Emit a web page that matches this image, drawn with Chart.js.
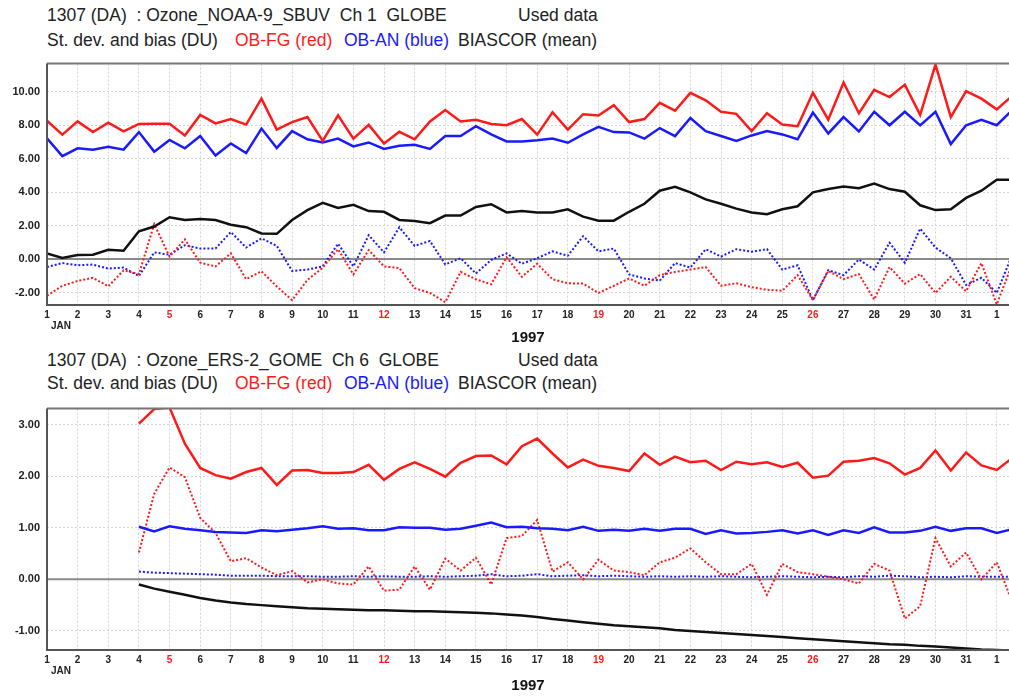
<!DOCTYPE html>
<html>
<head>
<meta charset="utf-8">
<script src="https://cdn.jsdelivr.net/npm/chart.js@4/dist/chart.umd.min.js"></script>
<style>
  body { margin: 0; background: #fff; font-family: 'Liberation Sans', Arial, sans-serif; }
  #page { position: relative; width: 1009px; height: 698px; overflow: hidden; }
  .t { position: absolute; font-size: 17.5px; line-height: 18px; color: #222; white-space: pre; }
  .r { color: #ff1a1a; }
  .b { color: #1a1aff; }
  canvas { position: absolute; left: 0; }
</style>
</head>
<body>
<div id="page">
  <div class="t" style="left:47px;top:6px">1307 (DA)  : Ozone_NOAA-9_SBUV  Ch 1  GLOBE</div>
  <div class="t" style="left:518px;top:6px">Used data</div>
  <div class="t" style="left:47px;top:31px">St. dev. and bias (DU)</div>
  <div class="t r" style="left:235px;top:31px">OB-FG (red)</div>
  <div class="t b" style="left:344px;top:31px">OB-AN (blue)</div>
  <div class="t" style="left:458px;top:31px">BIASCOR (mean)</div>
  <canvas id="c1" width="1009" height="300" style="top:50px"></canvas>

  <div class="t" style="left:47px;top:351px">1307 (DA)  : Ozone_ERS-2_GOME  Ch 6  GLOBE</div>
  <div class="t" style="left:518px;top:351px">Used data</div>
  <div class="t" style="left:47px;top:374px">St. dev. and bias (DU)</div>
  <div class="t r" style="left:235px;top:374px">OB-FG (red)</div>
  <div class="t b" style="left:344px;top:374px">OB-AN (blue)</div>
  <div class="t" style="left:458px;top:374px">BIASCOR (mean)</div>
  <canvas id="c2" width="1009" height="300" style="top:395px"></canvas>
</div>
<script>
// time axis: days of Jan 1997, two values per day (32 = 1 Feb)
const days = [1, 1.5, 2, 2.5, 3, 3.5, 4, 4.5, 5, 5.5, 6, 6.5, 7, 7.5, 8, 8.5,
  9, 9.5, 10, 10.5, 11, 11.5, 12, 12.5, 13, 13.5, 14, 14.5, 15, 15.5, 16, 16.5,
  17, 17.5, 18, 18.5, 19, 19.5, 20, 20.5, 21, 21.5, 22, 22.5, 23, 23.5, 24, 24.5,
  25, 25.5, 26, 26.5, 27, 27.5, 28, 28.5, 29, 29.5, 30, 30.5, 31, 31.5, 32, 32.5];
const sundays = [5, 12, 19, 26];

// --- NOAA-9 SBUV, Ch 1 ---
const sbuvSdFg = [8.28, 7.45, 8.24, 7.6, 8.16, 7.64, 8.09, 8.1, 8.1, 7.4, 8.63, 8.12, 8.38, 8.05, 9.6, 7.75,
  8.2, 8.5, 7.07, 8.6, 7.21, 8.03, 6.92, 7.62, 7.17, 8.24, 8.92, 8.24, 8.34, 8.09, 8.01, 8.38,
  7.45, 8.79, 7.75, 8.67, 8.59, 9.21, 8.2, 8.38, 9.35, 8.88, 9.95, 9.5, 8.82, 8.69, 7.66, 8.73,
  8.05, 7.95, 9.95, 8.34, 10.57, 8.73, 10.13, 9.7, 10.44, 8.63, 11.64, 8.5, 10.05, 9.6, 8.96, 9.76];
const sbuvSdAn = [7.23, 6.16, 6.63, 6.55, 6.72, 6.55, 7.6, 6.43, 7.13, 6.63, 7.37, 6.2, 6.92, 6.34, 7.81, 6.65,
  7.66, 7.17, 6.98, 7.21, 6.74, 6.98, 6.59, 6.78, 6.84, 6.59, 7.37, 7.37, 7.95, 7.46, 7.04, 7.04,
  7.11, 7.21, 6.96, 7.46, 7.91, 7.6, 7.58, 7.21, 7.84, 7.36, 8.44, 7.66, 7.37, 7.07, 7.4, 7.66,
  7.46, 7.17, 8.77, 7.52, 8.5, 7.64, 8.82, 8.01, 8.82, 8.0, 8.82, 6.88, 8.01, 8.34, 8.01, 8.9];
const sbuvBiascor = [0.34, 0.07, 0.24, 0.26, 0.55, 0.5, 1.66, 1.95, 2.5, 2.34, 2.4, 2.34, 2.05, 1.91, 1.53, 1.51,
  2.34, 2.93, 3.37, 3.06, 3.25, 2.87, 2.83, 2.34, 2.28, 2.15, 2.6, 2.6, 3.12, 3.28, 2.79, 2.87,
  2.79, 2.79, 2.98, 2.54, 2.3, 2.3, 2.83, 3.31, 4.09, 4.32, 3.99, 3.57, 3.31, 3.02, 2.79, 2.69,
  2.98, 3.16, 3.99, 4.19, 4.34, 4.24, 4.52, 4.19, 4.03, 3.22, 2.93, 2.98, 3.66, 4.09, 4.75, 4.75];
const sbuvMeanFg = [-2.19, -1.6, -1.31, -1.12, -1.64, -0.67, -0.9, 2.09, 0.15, 1.18, -0.22, -0.44, 0.34, -1.2, -0.73, -1.64,
  -2.46, -1.25, -0.51, 0.59, -0.92, 0.54, -0.44, -0.54, -1.74, -2.03, -2.58, -0.77, -1.21, -1.51, 0.11, -1.06,
  -0.28, -1.21, -1.45, -1.47, -2.03, -1.6, -1.16, -1.6, -0.96, -0.77, -0.63, -0.48, -1.6, -1.45, -1.68, -1.84,
  -1.9, -0.96, -2.46, -0.71, -1.2, -0.9, -2.42, -0.48, -1.47, -0.9, -2.03, -1.06, -1.93, -0.24, -2.71, -0.32];
const sbuvMeanAn = [-0.48, -0.24, -0.37, -0.33, -0.57, -0.51, -1.02, 0.4, 0.26, 0.83, 0.63, 0.63, 1.62, 0.69, 1.24, 0.79,
  -0.71, -0.63, -0.44, 0.92, -0.44, 1.43, 0.4, 1.9, 0.79, 1.08, -0.32, 0.05, -0.86, -0.05, 0.34, -0.28,
  0.05, 0.46, 0.2, 1.37, 0.46, 0.63, -0.92, -1.16, -1.29, -0.24, -0.51, 0.59, 0.15, 0.59, 0.44, 0.59,
  -0.63, -0.37, -2.46, -0.67, -0.96, -0.03, -0.63, 0.98, -0.22, 1.82, 0.69, 0.05, -1.55, -1.12, -2.03, 0.23];

// --- ERS-2 GOME, Ch 6 (no data before Jan 4) ---
const gomeSdFg = [null, null, null, null, null, null, 3.02, 3.3, 3.33, 2.63, 2.16, 2.02, 1.95, 2.08, 2.16, 1.83,
  2.11, 2.12, 2.06, 2.06, 2.08, 2.22, 1.93, 2.14, 2.27, 2.14, 1.99, 2.26, 2.39, 2.4, 2.23, 2.58,
  2.73, 2.44, 2.17, 2.32, 2.2, 2.16, 2.1, 2.44, 2.22, 2.38, 2.27, 2.3, 2.12, 2.28, 2.23, 2.27,
  2.18, 2.26, 1.97, 2.01, 2.28, 2.3, 2.35, 2.25, 2.03, 2.16, 2.5, 2.11, 2.46, 2.21, 2.12, 2.35];
const gomeSdAn = [null, null, null, null, null, null, 1.02, 0.93, 1.03, 0.98, 0.95, 0.92, 0.91, 0.9, 0.95, 0.93,
  0.96, 0.99, 1.03, 0.98, 0.99, 0.95, 0.95, 1.01, 1.0, 1.0, 0.96, 0.98, 1.04, 1.1, 1.01, 1.02,
  0.99, 0.98, 0.95, 1.02, 0.94, 0.96, 0.94, 0.98, 0.94, 0.98, 0.98, 0.88, 0.95, 0.89, 0.9, 0.92,
  0.95, 0.89, 0.95, 0.86, 0.95, 0.9, 1.01, 0.91, 0.91, 0.94, 1.02, 0.94, 0.99, 0.99, 0.9, 0.97];
const gomeBiascor = [null, null, null, null, null, null, -0.1, -0.18, -0.24, -0.3, -0.36, -0.41, -0.45, -0.48, -0.5, -0.52,
  -0.54, -0.56, -0.57, -0.58, -0.59, -0.6, -0.6, -0.61, -0.62, -0.62, -0.63, -0.64, -0.65, -0.66, -0.68, -0.7,
  -0.73, -0.77, -0.8, -0.83, -0.86, -0.89, -0.91, -0.93, -0.95, -0.98, -1.0, -1.02, -1.04, -1.06, -1.08, -1.1,
  -1.12, -1.14, -1.16, -1.18, -1.2, -1.22, -1.24, -1.26, -1.27, -1.29, -1.3, -1.32, -1.34, -1.36, -1.37, -1.38];
const gomeMeanFg = [null, null, null, null, null, null, 0.52, 1.66, 2.17, 1.98, 1.19, 0.9, 0.35, 0.41, 0.23, 0.08,
  0.16, -0.06, 0.0, -0.08, -0.1, 0.25, -0.22, -0.2, 0.25, -0.2, 0.4, 0.17, 0.42, -0.1, 0.8, 0.84,
  1.15, 0.15, 0.33, 0.0, 0.38, 0.17, 0.14, 0.08, 0.33, 0.42, 0.6, 0.33, 0.1, 0.1, 0.3, -0.3,
  0.3, 0.14, 0.1, 0.05, 0.0, -0.08, 0.3, 0.17, -0.76, -0.52, 0.8, 0.25, 0.52, 0.0, 0.33, -0.43];
const gomeMeanAn = [null, null, null, null, null, null, 0.15, 0.13, 0.12, 0.11, 0.1, 0.09, 0.07, 0.07, 0.07, 0.06,
  0.06, 0.06, 0.05, 0.05, 0.06, 0.05, 0.06, 0.05, 0.05, 0.06, 0.05, 0.06, 0.07, 0.1, 0.06, 0.07,
  0.1, 0.06, 0.07, 0.08, 0.06, 0.07, 0.06, 0.05, 0.06, 0.05, 0.06, 0.05, 0.06, 0.05, 0.04, 0.05,
  0.06, 0.05, 0.04, 0.05, 0.04, 0.06, 0.05, 0.07, 0.06, 0.04, 0.05, 0.04, 0.06, 0.05, 0.05, 0.05];

const RED = '#ff1a1a', BLUE = '#1a1aff', BLACK = '#111';
const FONT = "'Liberation Sans', Arial, sans-serif";

const pts = (vals) => vals.map((v, i) => ({ x: days[i], y: v }));

/* Zero line under the data, frame + "JAN" on top. */
const framePlugin = {
  id: 'frame',
  beforeDatasetsDraw(chart) {
    const { ctx, chartArea: a, scales: { y } } = chart;
    const y0 = y.getPixelForValue(0);
    ctx.save();
    ctx.strokeStyle = '#8a8a8a';
    ctx.lineWidth = 2;
    ctx.beginPath(); ctx.moveTo(a.left, y0); ctx.lineTo(a.right, y0); ctx.stroke();
    ctx.restore();
  },
  afterDraw(chart) {
    const { ctx, chartArea: a, scales: { x } } = chart;
    ctx.save();
    ctx.strokeStyle = '#777'; ctx.lineWidth = 2;
    ctx.beginPath(); ctx.moveTo(a.right, a.top); ctx.lineTo(a.left, a.top); ctx.stroke();
    ctx.strokeStyle = '#555';
    ctx.beginPath(); ctx.moveTo(a.left, a.top); ctx.lineTo(a.left, a.bottom); ctx.lineTo(a.right, a.bottom); ctx.stroke();
    ctx.font = 'bold 10px ' + FONT;
    ctx.fillStyle = '#222';
    ctx.textBaseline = 'middle';
    ctx.fillText('JAN', x.getPixelForValue(1) + 4, a.bottom + 21);
    ctx.restore();
  }
};

function panel(id, sdFg, sdAn, bias, meanFg, meanAn, yMin, yMax, yStep, titlePad) {
  const solid = (data, color) => ({ data: pts(data), borderColor: color, borderWidth: 2.5, pointRadius: 0, tension: 0 });
  const dotted = (data, color) => ({ data: pts(data), borderColor: color, borderWidth: 2, borderDash: [2, 2], pointRadius: 0, tension: 0 });
  new Chart(document.getElementById(id), {
    type: 'line',
    data: {
      datasets: [
        solid(sdFg, RED), solid(sdAn, BLUE), solid(bias, BLACK),
        dotted(meanFg, RED), dotted(meanAn, BLUE)
      ]
    },
    options: {
      responsive: false, animation: false,
      layout: { padding: { top: 8, right: 0, bottom: 0, left: 0 } },
      plugins: { legend: { display: false }, tooltip: { enabled: false } },
      scales: {
        x: {
          type: 'linear', min: 1, max: 32.4,
          afterFit: (s) => { s.height = 45; },
          grid: { color: '#d4d4d4', lineWidth: 1, drawTicks: false },
          border: { display: false, dash: [2, 2] },
          ticks: {
            stepSize: 1, includeBounds: false, autoSkip: false, maxRotation: 0, padding: 4,
            font: { family: FONT, size: 10, weight: 'bold' },
            color: (c) => sundays.includes(c.tick.value) ? RED : '#222',
            callback: (v) => String(v > 31 ? v - 31 : v)
          },
          title: { display: true, text: '1997', color: '#111', font: { family: FONT, size: 15, weight: 'bold' }, padding: { top: 0, bottom: titlePad } }
        },
        y: {
          min: yMin, max: yMax,
          afterFit: (s) => { s.width = 47; },
          grid: { color: '#d4d4d4', lineWidth: 1, drawTicks: false },
          border: { display: false, dash: [2, 2] },
          ticks: {
            stepSize: yStep, includeBounds: false, padding: 7,
            font: { family: FONT, size: 11, weight: 'bold' }, color: '#222',
            callback: (v) => v.toFixed(2)
          }
        }
      }
    },
    plugins: [framePlugin]
  });
}

panel('c1', sbuvSdFg, sbuvSdAn, sbuvBiascor, sbuvMeanFg, sbuvMeanAn, -2.75, 11.7, 2, 3);
panel('c2', gomeSdFg, gomeSdAn, gomeBiascor, gomeMeanFg, gomeMeanAn, -1.37, 3.31, 1, 0);
</script>
</body>
</html>
